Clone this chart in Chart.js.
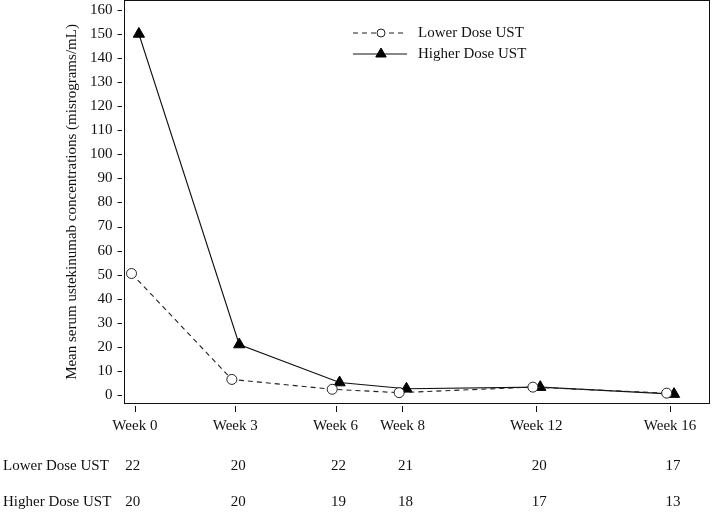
<!DOCTYPE html>
<html>
<head>
<meta charset="utf-8">
<script src="https://cdn.jsdelivr.net/npm/chart.js@4"></script>
<style>
  body { margin: 0; background: #fff; }
  #wrap { width: 714px; height: 514px; position: relative; }
</style>
</head>
<body>
<div id="wrap"><canvas id="chart"></canvas></div>
<script>
// weeks on the x axis and the mean concentrations (micrograms/mL)
const weeks = [0, 3, 6, 8, 12, 16];
const lowerDose = [50.5, 6.5, 2.4, 1.0, 3.3, 0.8];
const higherDose = [150, 21, 5.2, 2.6, 3.3, 0.4];
const yTicks = [0, 10, 20, 30, 40, 50, 60, 70, 80, 90, 100, 110, 120, 130, 140, 150, 160];

// patients at each visit
const lowerN = [22, 20, 22, 21, 20, 17];
const higherN = [20, 20, 19, 18, 17, 13];

const FONT = '"Liberation Serif", "DejaVu Serif", serif';
const INK = '#111';

// small horizontal dodge so the markers don't sit on top of each other
const dodge = { lower: -0.1, higher: 0.12 };

const toPoints = (vals, dx) => vals.map((v, i) => ({ x: weeks[i] + dx, y: v }));

// frame, tick marks, legend and the numbers-at-risk table
const extras = {
  id: 'extras',
  afterDraw(chart) {
    const { ctx, chartArea: a, scales: { x, y } } = chart;
    ctx.save();
    ctx.strokeStyle = INK;
    ctx.lineWidth = 1;
    ctx.strokeRect(a.left, a.top, a.right - a.left, a.bottom - a.top);

    // tick marks, slightly detached from the frame
    ctx.beginPath();
    weeks.forEach(w => {
      const px = Math.round(x.getPixelForValue(w)) + 0.5;
      ctx.moveTo(px, a.bottom + 2.5);
      ctx.lineTo(px, a.bottom + 8.5);
    });
    yTicks.forEach(v => {
      const py = Math.round(y.getPixelForValue(v)) + 0.5;
      ctx.moveTo(a.left - 2.5, py);
      ctx.lineTo(a.left - 7, py);
    });
    ctx.stroke();

    // legend
    ctx.font = '15px ' + FONT;
    ctx.fillStyle = INK;
    ctx.textBaseline = 'middle';
    ctx.textAlign = 'left';
    chart.data.datasets.forEach((ds, i) => {
      const ly = 33 + i * 21;
      ctx.save();
      ctx.strokeStyle = ds.borderColor;
      ctx.lineWidth = ds.borderWidth;
      ctx.setLineDash(ds.borderDash || []);
      ctx.beginPath();
      ctx.moveTo(353, ly);
      ctx.lineTo(407, ly);
      ctx.stroke();
      ctx.restore();
      ctx.save();
      ctx.strokeStyle = ds.pointBorderColor;
      ctx.fillStyle = ds.pointBackgroundColor;
      ctx.lineWidth = 1;
      Chart.helpers.drawPoint(ctx, {
        pointStyle: ds.pointStyle,
        radius: ds.pointStyle === 'circle' ? 4 : 6,
        rotation: 0,
        borderWidth: 1
      }, 381, ly);
      ctx.restore();
      ctx.fillText(ds.label, 418, ly);
    });

    // numbers table
    const rows = [['Lower Dose UST', lowerN, 466], ['Higher Dose UST', higherN, 502]];
    rows.forEach(([label, ns, ry]) => {
      ctx.textAlign = 'left';
      ctx.fillText(label, 3, ry);
      ctx.textAlign = 'center';
      ns.forEach((n, i) => {
        const px = x.getPixelForValue(weeks[i]) + (i === 0 ? -2 : 3);
        ctx.fillText(String(n), px, ry);
      });
    });
    ctx.restore();
  }
};

new Chart(document.getElementById('chart'), {
  type: 'line',
  data: {
    datasets: [
      {
        label: 'Lower Dose UST',
        data: toPoints(lowerDose, dodge.lower),
        borderColor: '#222',
        borderWidth: 1.1,
        borderDash: [5, 4],
        pointStyle: 'circle',
        pointRadius: 5,
        pointBorderWidth: 1,
        pointBorderColor: '#222',
        pointBackgroundColor: '#fff',
        tension: 0
      },
      {
        label: 'Higher Dose UST',
        data: toPoints(higherDose, dodge.higher),
        borderColor: '#111',
        borderWidth: 1.1,
        pointStyle: 'triangle',
        pointRadius: 6.5,
        pointBorderWidth: 1,
        pointBorderColor: '#000',
        pointBackgroundColor: '#000',
        tension: 0
      }
    ]
  },
  options: {
    responsive: true,
    maintainAspectRatio: false,
    animation: false,
    layout: { autoPadding: false, padding: { left: 55, right: 4.5, top: 0.5, bottom: 0 } },
    plugins: {
      legend: { display: false },
      tooltip: { enabled: false }
    },
    scales: {
      x: {
        type: 'linear',
        min: -0.31,
        max: 17.18,
        grid: { display: false, drawTicks: true, tickLength: 8 },
        border: { display: false },
        afterBuildTicks: s => { s.ticks = weeks.map(v => ({ value: v })); },
        afterFit: s => { s.height = 110.5; s.paddingLeft = 0; s.paddingRight = 0; },
        ticks: {
          padding: 6,
          maxRotation: 0,
          autoSkip: false,
          color: INK,
          font: { family: FONT, size: 15 },
          callback: v => 'Week ' + v
        }
      },
      y: {
        min: -3.5,
        max: 163.9,
        grid: { display: false, drawTicks: true, tickLength: 7 },
        border: { display: false },
        afterBuildTicks: s => { s.ticks = yTicks.map(v => ({ value: v })); },
        afterFit: s => { s.width = 69.5; s.paddingTop = 0; s.paddingBottom = 0; },
        ticks: {
          padding: 5,
          autoSkip: false,
          color: INK,
          font: { family: FONT, size: 15 }
        },
        title: {
          display: true,
          text: 'Mean serum ustekinumab concentrations (misrograms/mL)',
          color: INK,
          font: { family: FONT, size: 15 },
          padding: { top: 8, bottom: 0 }
        }
      }
    }
  },
  plugins: [extras]
});
</script>
</body>
</html>
